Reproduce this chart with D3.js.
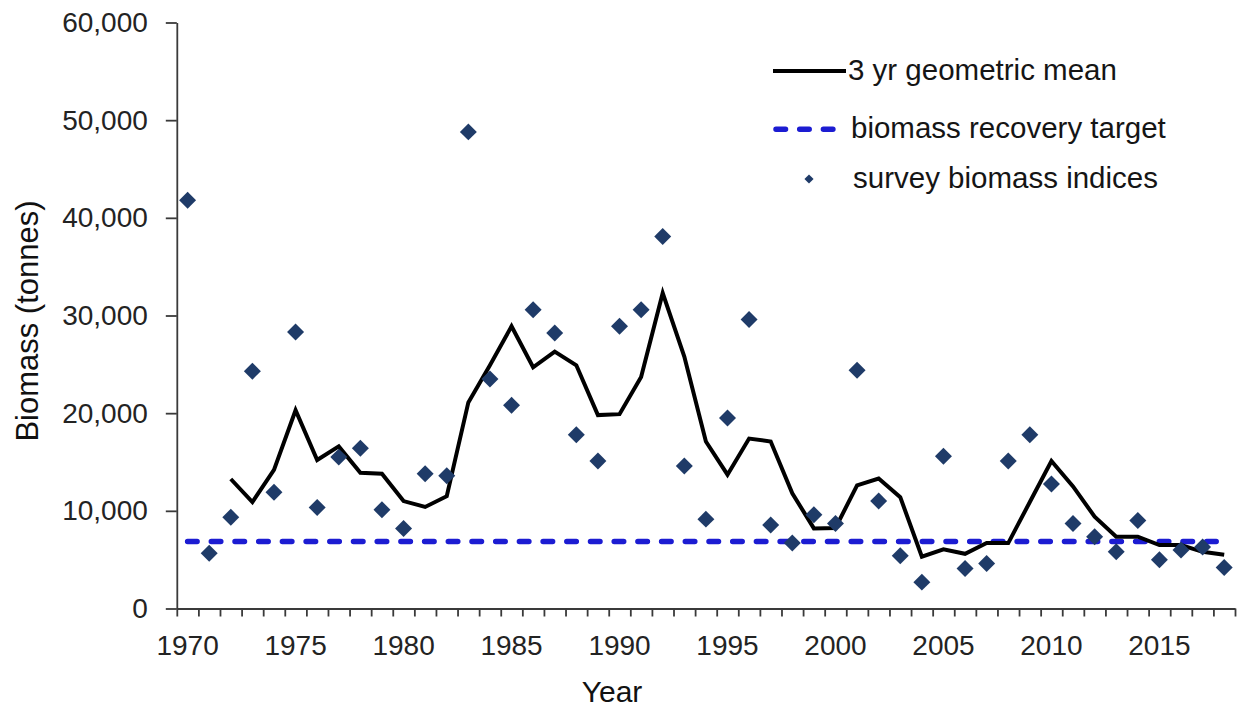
<!DOCTYPE html>
<html>
<head>
<meta charset="utf-8">
<script src="https://cdn.jsdelivr.net/npm/d3@7"></script>
<style>
  html, body { margin: 0; padding: 0; background: #ffffff; }
  svg { display: block; }
  text { font-family: "Liberation Sans", Arial, Helvetica, sans-serif; }
</style>
</head>
<body>
<svg id="chart" width="1243" height="708"></svg>
<script>
// Survey years on the category axis
const years = d3.range(1970, 2019);

// Annual survey biomass indices (tonnes)
const surveyIndex = [
  41800, 5650, 9350, 24300, 11900, 28300, 10350, 15500, 16400, 10100,
  8200, 13800, 13600, 48800, 23500, 20800, 30600, 28200, 17800, 15100,
  28900, 30600, 38100, 14600, 9150, 19500, 29600, 8550, 6700, 9600,
  8700, 24400, 11000, 5400, 2700, 15600, 4100, 4600, 15100, 17800,
  12750, 8700, 7350, 5800, 9000, 5000, 6000, 6300, 4200
];

// 3-year geometric mean (first two years have no value)
const geoMean = [
  null, null, 13260, 10900, 14200, 20300, 15200, 16600, 13900, 13800,
  11000, 10400, 11500, 21100, 24900, 28900, 24700, 26300, 24900, 19800,
  19900, 23700, 32300, 25800, 17100, 13700, 17400, 17100, 11800, 8200,
  8250, 12600, 13300, 11400, 5300, 6060, 5600, 6700, 6700, 10900,
  15100, 12500, 9400, 7350, 7350, 6500, 6500, 5800, 5500
];

// Biomass recovery target (tonnes)
const recoveryTarget = 6850;

// Axis tick values and legend labels
const yTicks = [0, 10000, 20000, 30000, 40000, 50000, 60000];
const xLabelYears = years.filter(y => y % 5 === 0);
const legendLabels = ["3 yr geometric mean", "biomass recovery target", "survey biomass indices"];

const svg = d3.select("#chart");

const plotLeft = 176.8, plotRight = 1235, plotTop = 22.5, plotBottom = 608.5;

const x = d3.scaleBand().domain(years).range([plotLeft, plotRight]).padding(0);
const cx = yr => x(yr) + x.bandwidth() / 2;
const y = d3.scaleLinear().domain([0, 60000]).range([plotBottom, plotTop]);

const axisColor = "#3a3a3a";
const labelColor = "#232323";

// Y axis
const yAxis = svg.append("g")
  .attr("transform", `translate(${plotLeft},0)`)
  .call(d3.axisLeft(y).tickValues(yTicks).tickSize(11).tickSizeOuter(0)
    .tickPadding(18).tickFormat(d3.format(",")));
yAxis.select(".domain").attr("stroke", axisColor).attr("stroke-width", 1.8);
yAxis.selectAll(".tick line").attr("stroke", axisColor).attr("stroke-width", 1.8);
yAxis.selectAll(".tick text").attr("fill", labelColor).style("font-size", "28px")
  .attr("font-family", null);

// X axis: tick marks on the boundaries between years
const xBounds = d3.scaleLinear().domain([0, years.length]).range([plotLeft, plotRight]);
const xTickAxis = svg.append("g")
  .attr("transform", `translate(0,${plotBottom})`)
  .call(d3.axisBottom(xBounds).tickValues(d3.range(0, years.length + 1))
    .tickSize(8).tickSizeOuter(0).tickFormat(""));
xTickAxis.select(".domain").attr("stroke", axisColor).attr("stroke-width", 1.8);
xTickAxis.selectAll(".tick line").attr("stroke", axisColor).attr("stroke-width", 1.8);

// X axis labels every fifth year, centred on the year
const xLabelAxis = svg.append("g")
  .attr("transform", `translate(0,${plotBottom})`)
  .call(d3.axisBottom(x).tickValues(xLabelYears).tickSize(0).tickPadding(26.6));
xLabelAxis.select(".domain").remove();
xLabelAxis.selectAll(".tick text").attr("fill", labelColor).style("font-size", "28px")
  .attr("font-family", null);

// Axis titles
svg.append("text")
  .attr("transform", "translate(27.7,321) rotate(-90)")
  .attr("text-anchor", "middle")
  .attr("dy", "0.33em")
  .attr("fill", "#111")
  .style("font-size", "31px")
  .text("Biomass (tonnes)");

svg.append("text")
  .attr("x", 612).attr("y", 701.7)
  .attr("text-anchor", "middle")
  .attr("fill", "#111")
  .style("font-size", "30px")
  .text("Year");

// Recovery target line across the survey years
const targetColor = "#1c1cd2";
svg.append("line")
  .attr("x1", cx(years[0])).attr("x2", cx(years[years.length - 1]))
  .attr("y1", y(recoveryTarget)).attr("y2", y(recoveryTarget))
  .attr("stroke", targetColor).attr("stroke-width", 5.5)
  .attr("stroke-dasharray", "9.5 14.2").attr("stroke-linecap", "round");

// Geometric mean line
const meanPts = years.map((yr, i) => ({ yr, v: geoMean[i] })).filter(d => d.v != null);
svg.append("path")
  .datum(meanPts)
  .attr("fill", "none")
  .attr("stroke", "#000")
  .attr("stroke-width", 4)
  .attr("stroke-linejoin", "miter")
  .attr("d", d3.line().x(d => cx(d.yr)).y(d => y(d.v)));

// Survey index markers
const diamondColor = "#1f3b68";
const diamond = d3.symbol().type(d3.symbolSquare).size(144);
svg.append("g").selectAll("path")
  .data(years.map((yr, i) => ({ yr, v: surveyIndex[i] })))
  .join("path")
  .attr("d", diamond)
  .attr("fill", diamondColor)
  .attr("transform", d => `translate(${cx(d.yr)},${y(d.v)}) rotate(45)`);

// Legend
const legend = svg.append("g");
const rowY = [71, 129.3, 179];
legend.append("line")
  .attr("x1", 773).attr("x2", 846).attr("y1", rowY[0]).attr("y2", rowY[0])
  .attr("stroke", "#000").attr("stroke-width", 4);
legend.append("line")
  .attr("x1", 776).attr("x2", 838).attr("y1", rowY[1]).attr("y2", rowY[1])
  .attr("stroke", targetColor).attr("stroke-width", 5.5)
  .attr("stroke-dasharray", "9.5 14.2").attr("stroke-linecap", "round");
legend.append("path")
  .attr("d", d3.symbol().type(d3.symbolSquare).size(42))
  .attr("fill", diamondColor)
  .attr("transform", `translate(809,${rowY[2]}) rotate(45)`);
legend.selectAll("text.lg")
  .data(legendLabels)
  .join("text")
  .attr("class", "lg")
  .attr("x", (d, i) => [848, 851, 853][i])
  .attr("y", (d, i) => rowY[i])
  .attr("dy", "0.3em")
  .attr("fill", "#151515")
  .style("font-size", "29.5px")
  .text(d => d);
</script>
</body>
</html>
